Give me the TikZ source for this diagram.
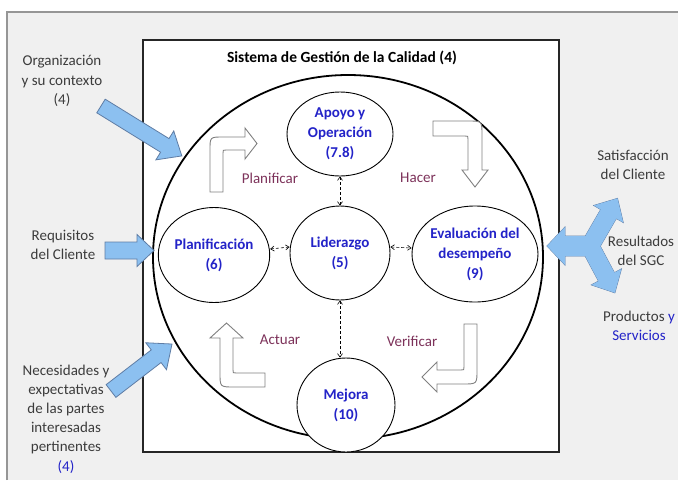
\documentclass[tikz,border=0pt]{standalone}
\usepackage{fontspec}
\setmainfont{Carlito}
\usetikzlibrary{shapes.geometric,arrows.meta}
\definecolor{bluetxt}{RGB}{35,35,200}
\definecolor{maroon}{RGB}{125,50,90}
\definecolor{graytxt}{RGB}{60,60,60}
\definecolor{bgray}{RGB}{240,240,240}
\definecolor{framegray}{RGB}{150,150,150}
\definecolor{bluefill}{RGB}{140,192,240}
\definecolor{blueline}{RGB}{95,125,165}
\newcommand\bluearrow[7]{%
 \begin{scope}[shift={(#1)},rotate=#2]
 \path[#7] (0,-#4) -- ({#3-#6},-#4) -- ({#3-#6},-#5) -- (#3,0) -- ({#3-#6},#5) -- ({#3-#6},#4) -- (0,#4) -- cycle;
 \end{scope}}
\begin{document}
\begin{tikzpicture}[x=1pt,y=-1pt,
  txt/.style={font=\fontsize{15}{19.2}\selectfont, align=center, inner sep=0pt},
  sidetxt/.style={txt, text=graytxt},
  phase/.style={txt, text=maroon},
  proc/.style={ellipse, draw=black, line width=0.9pt, fill=white, inner sep=0pt,
     font=\fontsize{15}{20}\selectfont\bfseries, text=bluetxt, align=center},
  link/.style={densely dashed, line width=0.6pt, {Straight Barb[length=3.5pt,width=5pt]}-{Straight Barb[length=3.5pt,width=5pt]}},
  hollow/.style={draw=gray, fill=white, line width=0.9pt, line join=miter},
  bluearr/.style={draw=blueline, fill=bluefill, line width=0.8pt, line join=miter},
  bluefillonly/.style={fill=bluefill}]
\useasboundingbox (0,0) rectangle (678,480);
% frame
\fill[white] (0,0) rectangle (678,480);
\fill[bgray] (7,12) rectangle (678,480);
\draw[framegray, line width=2pt] (7,480) -- (7,12) -- (678,12);
% system box
\draw[fill=white, draw=black!85, line width=1.3pt] (143,40) rectangle (559,452);
\node[font=\fontsize{15.5}{19}\selectfont\bfseries, inner sep=0pt] (title) at (342,58) {Sistema de Gestión de la Calidad (4)};
% big circle
\draw[line width=1.8pt] (348,257) ellipse [x radius=195, y radius=182];
% hollow bent arrows
\path[hollow] (210,192) -- (210,150) .. controls (210,137) .. (223,137) -- (245,137) -- (245,128) -- (257,143.5) -- (245,159) -- (245,150) -- (226,150) .. controls (223,150) .. (223,153) -- (223,192) -- cycle;
\path[hollow] (433,121) -- (468,121) .. controls (482,121) .. (482,135) -- (482,170) -- (488,170) -- (475,187) -- (462,170) -- (468,170) -- (468,139) .. controls (468,136) .. (465,136) -- (433,136) -- cycle;
\path[hollow] (464,324) -- (477,324) -- (477,370) .. controls (477,384) .. (463,384) -- (437,384) -- (437,392) -- (422,377) -- (437,362) -- (437,370) -- (461,370) .. controls (464,370) .. (464,367) -- cycle;
\path[hollow] (265,373) -- (265,387) -- (234,387) .. controls (220,387) .. (220,373) -- (220,338) -- (210,338) -- (226.5,323) -- (243,338) -- (233,338) -- (233,370) .. controls (233,373) .. (236,373) -- cycle;
% phase labels
\node[phase] (planificar) at (270,178) {Planificar};
\node[phase] (hacer) at (418,178) {Hacer};
\node[phase] (actuar) at (280,340) {Actuar};
\node[phase] (verificar) at (412,341) {Verificar};
% process nodes
\node[proc, minimum width=106pt, minimum height=84pt] (apoyo) at (340,134) {Apoyo y\\Operación\\(7.8)};
\node[proc, minimum width=98pt, minimum height=95pt] (plan) at (214,255) {Planificación\\(6)};
\node[proc, minimum width=100pt, minimum height=94pt] (lider) at (340,253) {Liderazgo\\(5)};
\node[proc, minimum width=124pt, minimum height=96pt] (eval) at (475,254) {Evaluación del\\desempeño\\(9)};
\node[proc, minimum width=98pt, minimum height=94pt] (mejora) at (346,405) {Mejora\\(10)};
% dashed links
\draw[link] (apoyo.south) -- (lider.north);
\draw[link] ([yshift=6pt]plan.east) -- ([yshift=6pt]lider.west);
\draw[link] ([yshift=6pt]lider.east) -- ([yshift=6pt]eval.west);
\draw[link] (lider.south) -- (lider.south |- mejora.north);
% blue input arrows
\bluearrow{101,106}{-31.7}{95}{8}{17}{20}{bluearr}
\bluearrow{105,250.5}{0}{49}{8.5}{16}{17}{bluearr}
\bluearrow{111,391}{37.6}{77}{8}{17}{20}{bluearr}
% output triple arrow
\bluearrow{590,246}{180}{43}{10}{19}{18}{bluearr}
\bluearrow{590,246}{60}{55}{9}{17}{18}{bluearr}
\bluearrow{590,246}{-62}{53}{9}{17}{18}{bluearr}
\bluearrow{590,246}{180}{43}{10}{19}{18}{bluefillonly}
\bluearrow{590,246}{60}{55}{9}{17}{18}{bluefillonly}
\bluearrow{590,246}{-62}{53}{9}{17}{18}{bluefillonly}
% side texts
\node[sidetxt] (org) at (62,81) {Organización\\y su contexto\\(4)};
\node[sidetxt] (req) at (63,245) {Requisitos\\del Cliente};
\node[sidetxt] (nec) at (66,419) {Necesidades y\\expectativas\\de las partes\\interesadas\\pertinentes\\{\color{bluetxt}(4)}};
\node[sidetxt] (sat) at (633,165) {Satisfacción\\del Cliente};
\node[sidetxt] (res) at (641,251) {Resultados\\del SGC};
\node[sidetxt] (prod) at (639,326) {Productos {\color{bluetxt}y}\\{\color{bluetxt}Servicios}};
\end{tikzpicture}
\end{document}
